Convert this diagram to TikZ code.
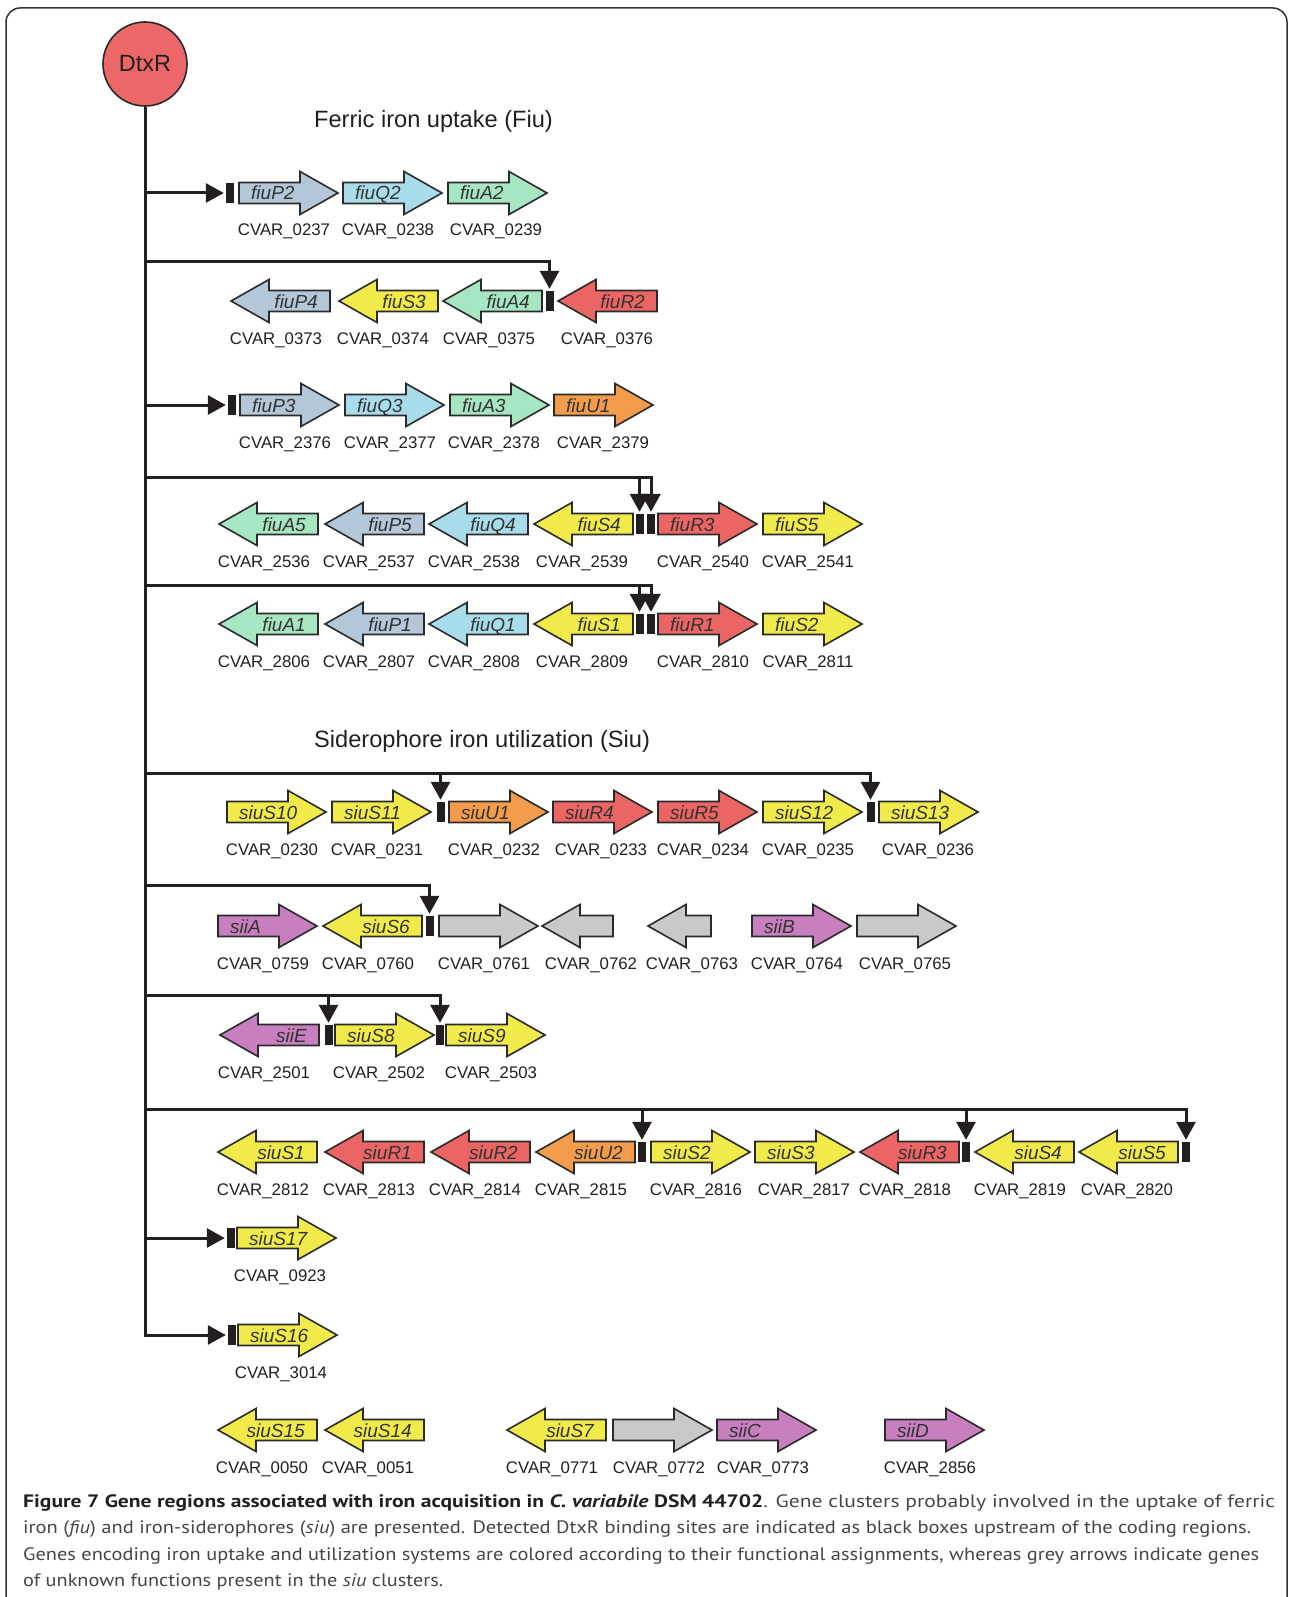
\documentclass[tikz,border=0pt]{standalone}
\usepackage{fontspec}
\setmainfont{Liberation Sans}
\newfontfamily\capfont{PT Sans}
\usetikzlibrary{arrows.meta}
\definecolor{cP}{HTML}{B3C7D9}
\definecolor{cQ}{HTML}{A8DCEA}
\definecolor{cA}{HTML}{A6E6C2}
\definecolor{cS}{HTML}{F1EA4B}
\definecolor{cR}{HTML}{EC6565}
\definecolor{cU}{HTML}{F29C4C}
\definecolor{cV}{HTML}{C77FBF}
\definecolor{cG}{HTML}{C9C9C9}
\definecolor{cDtx}{HTML}{EC6767}
\definecolor{outl}{HTML}{2A2A2A}
\definecolor{blk}{HTML}{231F20}
\definecolor{txt}{HTML}{231F20}
\definecolor{gtxt}{HTML}{333333}
\definecolor{capgray}{HTML}{454545}
\definecolor{framec}{HTML}{333333}
\newlength\capw
\newcommand\capline[2]{\settowidth\capw{#2}\pgfmathsetmacro\capsx{#1/\capw}\scalebox{\capsx}[1]{#2}}
% right-pointing gene: x0, y, length, colour, label, name
\newcommand\gR[6]{%
  \draw[gene, fill=#4] (#1,#2-10.5) -- ++(#3-38,0) -- ++(0,-11) -- ++(38,21.5) -- ++(-38,21.5) -- ++(0,-11) -- ++(-#3+38,0) -- cycle;
  \if\relax\detokenize{#5}\relax\else\node[glab, anchor=base west] (#6) at (#1+12,#2+7) {#5};\fi}
% left-pointing gene: x0 (tip), y, length, colour, label, name
\newcommand\gL[6]{%
  \draw[gene, fill=#4] (#1,#2) -- ++(38,-21.5) -- ++(0,11) -- ++(#3-38,0) -- ++(0,21) -- ++(-#3+38,0) -- ++(0,11) -- cycle;
  \if\relax\detokenize{#5}\relax\else\node[glab, anchor=base east] (#6) at (#1+#3-12,#2+7) {#5};\fi}
\begin{document}
\begin{tikzpicture}[x=1pt,y=-1pt,
  gene/.style={draw=outl, line width=1.6pt, line join=miter},
  glab/.style={inner sep=0pt, font=\fontsize{19}{19}\selectfont\itshape, text=gtxt},
  cvar/.style={inner sep=0pt, anchor=base, font=\fontsize{16.8}{17}\selectfont, text=txt},
  site/.style={rectangle, fill=blk, draw=none, inner sep=0pt, minimum width=8pt, minimum height=20pt},
  conn/.style={draw=blk, line width=3pt, -{Triangle[length=18pt,width=19pt]}, shorten >=2pt},
  sectitle/.style={inner sep=0pt, anchor=base west, font=\fontsize{23.6}{24}\selectfont, text=txt},
  captext/.style={inner sep=0pt, anchor=base west, font=\capfont\fontsize{18}{18}\selectfont, text=capgray},
  framesty/.style={draw=framec, line width=1.5pt}]
\useasboundingbox (0,0) rectangle (1290,1597);
\draw[framesty, rounded corners=14pt] (6,1597) -- (6,8) -- (1287,8) -- (1287,1597);

\node[circle, draw=outl, line width=1.6pt, fill=cDtx, minimum size=84pt, inner sep=0pt,
      font=\fontsize{23.5}{24}\selectfont, text=txt] (dtxr) at (145,64) {DtxR};

\node[sectitle] (tfiu) at (314,128) {Ferric iron uptake (Fiu)};
\node[sectitle] (tsiu) at (314,747) {Siderophore iron utilization (Siu)};

% Row 1
\node[site] (s1) at (230,193) {};
\gR{239}{193}{99}{cP}{fiuP2}{fiuP2}
\gR{343}{193}{99}{cQ}{fiuQ2}{fiuQ2}
\gR{448}{193}{99}{cA}{fiuA2}{fiuA2}
\node[cvar] (c0237) at (284,236) {CVAR\_0237};
\node[cvar] (c0238) at (388,236) {CVAR\_0238};
\node[cvar] (c0239) at (496,236) {CVAR\_0239};

% Row 2
\gL{231}{301}{99}{cP}{fiuP4}{fiuP4}
\gL{339}{301}{99}{cS}{fiuS3}{fiuS3}
\gL{443}{301}{99}{cA}{fiuA4}{fiuA4}
\node[site] (s2) at (549.5,301) {};
\gL{558}{301}{99}{cR}{fiuR2}{fiuR2}
\node[cvar] (c0373) at (276,344) {CVAR\_0373};
\node[cvar] (c0374) at (383,344) {CVAR\_0374};
\node[cvar] (c0375) at (489,344) {CVAR\_0375};
\node[cvar] (c0376) at (607,344) {CVAR\_0376};

% Row 3
\node[site] (s3) at (232,405) {};
\gR{240}{405}{99}{cP}{fiuP3}{fiuP3}
\gR{345}{405}{99}{cQ}{fiuQ3}{fiuQ3}
\gR{450}{405}{99}{cA}{fiuA3}{fiuA3}
\gR{554}{405}{99}{cU}{fiuU1}{fiuU1}
\node[cvar] (c2376) at (285,448) {CVAR\_2376};
\node[cvar] (c2377) at (390,448) {CVAR\_2377};
\node[cvar] (c2378) at (494,448) {CVAR\_2378};
\node[cvar] (c2379) at (603,448) {CVAR\_2379};

% Row 4
\gL{219}{524}{99}{cA}{fiuA5}{fiuA5}
\gL{325}{524}{99}{cP}{fiuP5}{fiuP5}
\gL{429}{524}{99}{cQ}{fiuQ4}{fiuQ4}
\gL{534}{524}{99}{cS}{fiuS4}{fiuS4}
\node[site] (s4a) at (639.5,524) {};
\node[site] (s4b) at (651,524) {};
\gR{658}{524}{99}{cR}{fiuR3}{fiuR3}
\gR{763}{524}{99}{cS}{fiuS5}{fiuS5}
\node[cvar] (c2536) at (264,567) {CVAR\_2536};
\node[cvar] (c2537) at (369,567) {CVAR\_2537};
\node[cvar] (c2538) at (474,567) {CVAR\_2538};
\node[cvar] (c2539) at (582,567) {CVAR\_2539};
\node[cvar] (c2540) at (703,567) {CVAR\_2540};
\node[cvar] (c2541) at (808,567) {CVAR\_2541};

% Row 5
\gL{219}{624}{99}{cA}{fiuA1}{fiuA1}
\gL{325}{624}{99}{cP}{fiuP1}{fiuP1}
\gL{429}{624}{99}{cQ}{fiuQ1}{fiuQ1}
\gL{534}{624}{99}{cS}{fiuS1}{fiuS1}
\node[site] (s5a) at (639.5,624) {};
\node[site] (s5b) at (651,624) {};
\gR{658}{624}{99}{cR}{fiuR1}{fiuR1}
\gR{763}{624}{99}{cS}{fiuS2}{fiuS2}
\node[cvar] (c2806) at (264,667) {CVAR\_2806};
\node[cvar] (c2807) at (369,667) {CVAR\_2807};
\node[cvar] (c2808) at (474,667) {CVAR\_2808};
\node[cvar] (c2809) at (582,667) {CVAR\_2809};
\node[cvar] (c2810) at (703,667) {CVAR\_2810};
\node[cvar] (c2811) at (808,667) {CVAR\_2811};

% Row 6
\gR{227}{812}{99}{cS}{siuS10}{siuS10}
\gR{332}{812}{99}{cS}{siuS11}{siuS11}
\node[site] (s6a) at (440.5,812) {};
\gR{449}{812}{99}{cU}{siuU1}{siuU1}
\gR{553}{812}{99}{cR}{siuR4}{siuR4}
\gR{658}{812}{99}{cR}{siuR5}{siuR5}
\gR{763}{812}{99}{cS}{siuS12}{siuS12}
\node[site] (s6b) at (870.5,812) {};
\gR{879}{812}{99}{cS}{siuS13}{siuS13}
\node[cvar] (c0230) at (272,855) {CVAR\_0230};
\node[cvar] (c0231) at (377,855) {CVAR\_0231};
\node[cvar] (c0232) at (494,855) {CVAR\_0232};
\node[cvar] (c0233) at (601,855) {CVAR\_0233};
\node[cvar] (c0234) at (703,855) {CVAR\_0234};
\node[cvar] (c0235) at (808,855) {CVAR\_0235};
\node[cvar] (c0236) at (928,855) {CVAR\_0236};

% Row 7
\gR{218}{926}{99}{cV}{siiA}{siiA}
\gL{323}{926}{99}{cS}{siuS6}{siuS6}
\node[site] (s7) at (429.5,926) {};
\gR{439}{926}{99}{cG}{}{g0761}
\gL{542}{926}{71}{cG}{}{g0762}
\gL{648}{926}{63}{cG}{}{g0763}
\gR{752}{926}{99}{cV}{siiB}{siiB}
\gR{857}{926}{99}{cG}{}{g0765}
\node[cvar] (c0759) at (263,969) {CVAR\_0759};
\node[cvar] (c0760) at (368,969) {CVAR\_0760};
\node[cvar] (c0761) at (484,969) {CVAR\_0761};
\node[cvar] (c0762) at (591,969) {CVAR\_0762};
\node[cvar] (c0763) at (692,969) {CVAR\_0763};
\node[cvar] (c0764) at (797,969) {CVAR\_0764};
\node[cvar] (c0765) at (905,969) {CVAR\_0765};

% Row 8
\gL{220}{1035}{99}{cV}{siiE}{siiE}
\node[site] (s8a) at (328.5,1035) {};
\gR{335}{1035}{99}{cS}{siuS8}{siuS8}
\node[site] (s8b) at (440,1035) {};
\gR{446}{1035}{99}{cS}{siuS9}{siuS9}
\node[cvar] (c2501) at (264,1078) {CVAR\_2501};
\node[cvar] (c2502) at (379,1078) {CVAR\_2502};
\node[cvar] (c2503) at (491,1078) {CVAR\_2503};

% Row 9
\gL{218}{1152}{99}{cS}{siuS1}{siuS1}
\gL{325}{1152}{99}{cR}{siuR1}{siuR1}
\gL{431}{1152}{99}{cR}{siuR2}{siuR2}
\gL{536}{1152}{99}{cU}{siuU2}{siuU2}
\node[site] (s9a) at (642,1152) {};
\gR{651}{1152}{99}{cS}{siuS2}{siuS2}
\gR{755}{1152}{99}{cS}{siuS3}{siuS3}
\gL{860}{1152}{99}{cR}{siuR3}{siuR3}
\node[site] (s9b) at (966,1152) {};
\gL{975}{1152}{99}{cS}{siuS4}{siuS4}
\gL{1079}{1152}{99}{cS}{siuS5}{siuS5}
\node[site] (s9c) at (1186,1152) {};
\node[cvar] (c2812) at (263,1195) {CVAR\_2812};
\node[cvar] (c2813) at (369,1195) {CVAR\_2813};
\node[cvar] (c2814) at (475,1195) {CVAR\_2814};
\node[cvar] (c2815) at (581,1195) {CVAR\_2815};
\node[cvar] (c2816) at (696,1195) {CVAR\_2816};
\node[cvar] (c2817) at (804,1195) {CVAR\_2817};
\node[cvar] (c2818) at (905,1195) {CVAR\_2818};
\node[cvar] (c2819) at (1020,1195) {CVAR\_2819};
\node[cvar] (c2820) at (1127,1195) {CVAR\_2820};

% Row 10
\node[site] (s10) at (231,1238) {};
\gR{237}{1238}{99}{cS}{siuS17}{siuS17}
\node[cvar] (c0923) at (280,1281) {CVAR\_0923};

% Row 11
\node[site] (s11) at (232,1335) {};
\gR{238}{1335}{99}{cS}{siuS16}{siuS16}
\node[cvar] (c3014) at (281,1378) {CVAR\_3014};

% Row 12
\gL{218}{1430}{99}{cS}{siuS15}{siuS15}
\gL{325}{1430}{99}{cS}{siuS14}{siuS14}
\gL{507}{1430}{99}{cS}{siuS7}{siuS7}
\gR{613}{1430}{99}{cG}{}{g0772}
\gR{717}{1430}{99}{cV}{siiC}{siiC}
\gR{885}{1430}{99}{cV}{siiD}{siiD}
\node[cvar] (c0050) at (262,1473) {CVAR\_0050};
\node[cvar] (c0051) at (368,1473) {CVAR\_0051};
\node[cvar] (c0771) at (552,1473) {CVAR\_0771};
\node[cvar] (c0772) at (659,1473) {CVAR\_0772};
\node[cvar] (c0773) at (763,1473) {CVAR\_0773};
\node[cvar] (c2856) at (930,1473) {CVAR\_2856};

% Connectors
\coordinate (br2) at (145,262);
\coordinate (br4) at (145,477);
\coordinate (br5) at (145,585);
\coordinate (br6) at (145,773);
\coordinate (br7) at (145,885);
\coordinate (br8) at (145,995);
\coordinate (br9) at (145,1109);
\draw[conn] (dtxr.south) |- (s11.west);
\draw[conn] (dtxr.south |- s1.west) -- (s1.west);
\draw[conn] (dtxr.south |- s3.west) -- (s3.west);
\draw[conn] (dtxr.south |- s10.west) -- (s10.west);
\draw[conn] (br2) -| (s2.north);
\draw[conn] (br4) -| (s4b.north);
\draw[conn] (s4a.north |- br4) -- (s4a.north);
\draw[conn] (br5) -| (s5b.north);
\draw[conn] (s5a.north |- br5) -- (s5a.north);
\draw[conn] (br6) -| (s6b.north);
\draw[conn] (s6a.north |- br6) -- (s6a.north);
\draw[conn] (br7) -| (s7.north);
\draw[conn] (br8) -| (s8b.north);
\draw[conn] (s8a.north |- br8) -- (s8a.north);
\draw[conn] (br9) -| (s9c.north);
\draw[conn] (s9a.north |- br9) -- (s9a.north);
\draw[conn] (s9b.north |- br9) -- (s9b.north);

% Caption
\node[captext] (cap1) at (23,1507) {\capline{1252}{{\color{txt}\bfseries Figure 7 Gene regions associated with iron acquisition in \textit{C. variabile} DSM 44702}. Gene clusters probably involved in the uptake of ferric}};
\node[captext] (cap2) at (23,1533.5) {\capline{1228}{iron (\textit{fiu}) and iron-siderophores (\textit{siu}) are presented. Detected DtxR binding sites are indicated as black boxes upstream of the coding regions.}};
\node[captext] (cap3) at (23,1560) {\capline{1236}{Genes encoding iron uptake and utilization systems are colored according to their functional assignments, whereas grey arrows indicate genes}};
\node[captext] (cap4) at (23,1586.5) {\capline{420}{of unknown functions present in the \textit{siu} clusters.}};
\end{tikzpicture}
\end{document}
